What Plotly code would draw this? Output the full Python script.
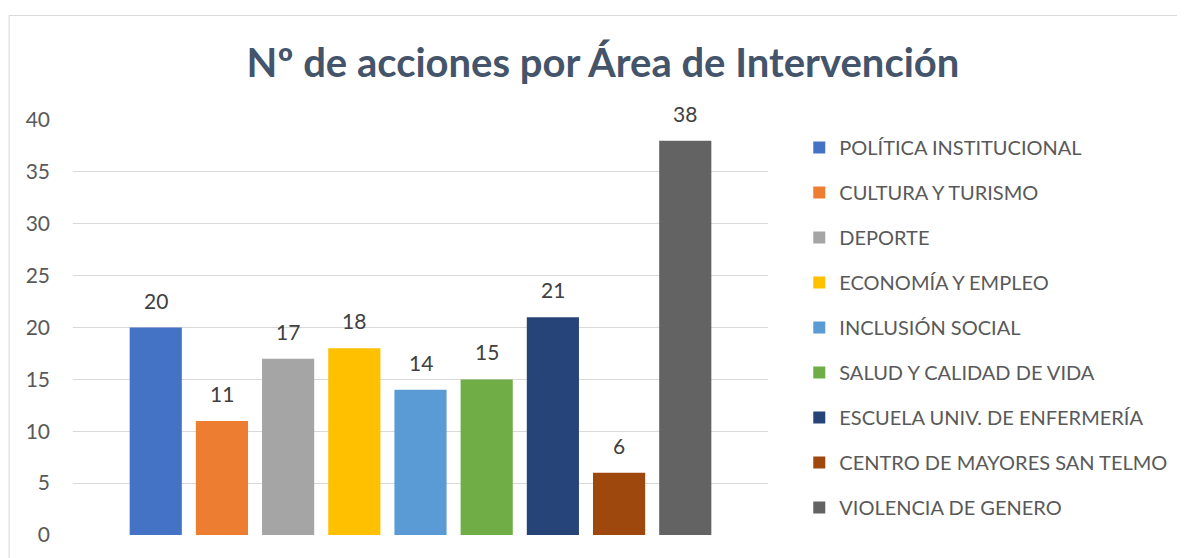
import plotly.graph_objects as go

categories = ["POLÍTICA INSTITUCIONAL", "CULTURA Y TURISMO", "DEPORTE", "ECONOMÍA Y EMPLEO",
              "INCLUSIÓN SOCIAL", "SALUD Y CALIDAD DE VIDA", "ESCUELA UNIV. DE ENFERMERÍA",
              "CENTRO DE MAYORES SAN TELMO", "VIOLENCIA DE GENERO"]
values = [20, 11, 17, 18, 14, 15, 21, 6, 38]
colors = ["#4472C4", "#ED7D31", "#A5A5A5", "#FFC000", "#5B9BD5", "#70AD47", "#264478", "#9E480E", "#636363"]
title = "Nº de acciones por Área de Intervención"
y_ticks = [0, 5, 10, 15, 20, 25, 30, 35, 40]

FONT = "Lato"
OFF = 8  # browser body margin

fig = go.Figure()
for i, (c, v, col) in enumerate(zip(categories, values, colors)):
    fig.add_trace(go.Bar(
        x=[c], y=[v], name=c, marker_color=col, marker_line_width=0,
        width=0.788, legendgroup=f"g{i}",
    ))
    fig.add_annotation(x=c, y=v, text=str(v), showarrow=False, yanchor="bottom", yshift=13,
                       font=dict(family=FONT, size=21, color="#404040"))

W, H = 1185 - OFF, 558 - OFF
L, T = 73 - OFF, 120 - OFF
R = W - (775 - OFF)
B = 21
pw, ph = W - L - R, H - T - B

fig.update_layout(
    width=W, height=H,
    margin=dict(l=L, r=R, t=T, b=B),
    paper_bgcolor="white", plot_bgcolor="white",
    barmode="overlay",
    title=dict(text=title, x=(603 - OFF) / W, xref="container", xanchor="center",
               y=1 - (63 - OFF) / H, yref="container", yanchor="middle",
               font=dict(family=FONT, size=40, color="#44546A", weight="bold")),
    showlegend=True,
    legend=dict(x=1.045, xanchor="left", y=1 - (128 - 120) / ph, yanchor="top",
                font=dict(family=FONT, size=20, color="#595959"),
                tracegroupgap=16, itemclick=False, bgcolor="rgba(0,0,0,0)"),
    xaxis=dict(type="category", categoryorder="array", categoryarray=categories,
               range=[-1.25, len(categories) - 1 + 1.25],
               showticklabels=False, showgrid=False, zeroline=False, showline=False, ticks=""),
    yaxis=dict(range=[0, 40], tickvals=y_ticks, showgrid=True, gridcolor="#D9D9D9", gridwidth=1,
               zeroline=False, showline=False, ticks="", ticklabelstandoff=22,
               tickfont=dict(family=FONT, size=21, color="#595959")),
    shapes=[dict(type="rect", xref="paper", yref="paper",
                 x0=(0.5 - L) / pw, x1=(1300 - L) / pw,
                 y0=-(80) / ph, y1=1 + (T - 7) / ph,
                 line=dict(color="#D9D9D9", width=1), fillcolor="rgba(0,0,0,0)", layer="below")],
)

fig.write_html("out.html")
